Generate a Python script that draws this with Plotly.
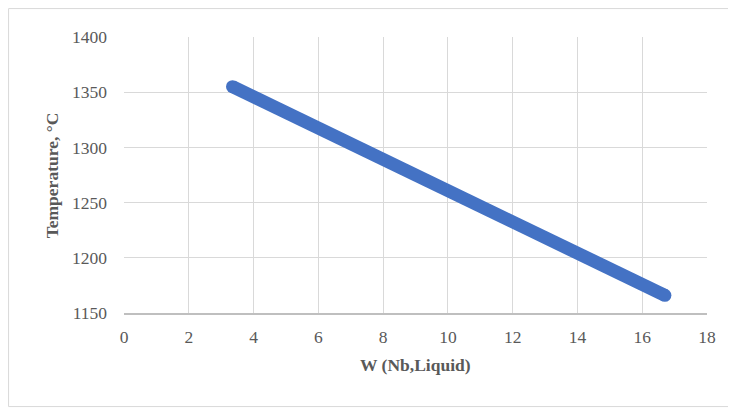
import plotly.graph_objects as go

w_nb_liquid = [3.35, 16.7]
temperature_c = [1355, 1166]
x_ticks = [0, 2, 4, 6, 8, 10, 12, 14, 16, 18]
y_ticks = [1150, 1200, 1250, 1300, 1350, 1400]

BLUE = "#4472C4"
GRID = "#D9D9D9"
TXT = "#595959"
FONT = "Liberation Serif"

fig = go.Figure()
fig.add_trace(go.Scatter(
    x=w_nb_liquid, y=temperature_c, mode="lines+markers",
    line=dict(color=BLUE, width=13),
    marker=dict(color=BLUE, size=13, line=dict(width=0)),
    showlegend=False, hoverinfo="skip"))

bx0, bx1, by0, by1 = -0.198, 1.2, -0.339, 1.103
border = dict(color=GRID, width=1)
fig.update_layout(
    width=728, height=400,
    margin=dict(l=116, r=29, t=29, b=95),
    paper_bgcolor="white", plot_bgcolor="white",
    font=dict(family=FONT, color=TXT, size=17.5),
    xaxis=dict(range=[0, 18], tickvals=x_ticks, showgrid=True, gridcolor=GRID,
               gridwidth=1, zeroline=False, showline=True, linecolor="#BFBFBF",
               linewidth=1.5, ticks="", ticklabelstandoff=7,
               tickfont=dict(size=17.5, color=TXT, family=FONT)),
    yaxis=dict(range=[1150, 1400], tickvals=y_ticks, showgrid=True, gridcolor=GRID,
               gridwidth=1, zeroline=False, showline=False, ticks="",
               ticklabelstandoff=16,
               tickfont=dict(size=17.5, color=TXT, family=FONT)),
    shapes=[
        dict(type="line", xref="paper", yref="paper", x0=bx0, x1=bx0, y0=by0, y1=by1, line=border, layer="below"),
        dict(type="line", xref="paper", yref="paper", x0=bx0, x1=bx1, y0=by1, y1=by1, line=border, layer="below"),
        dict(type="line", xref="paper", yref="paper", x0=bx0, x1=bx1, y0=by0, y1=by0, line=border, layer="below"),
    ],
    annotations=[
        dict(text="<b>Temperature, °C</b>", xref="paper", yref="paper",
             x=-0.123, y=0.5, textangle=-90, showarrow=False,
             font=dict(size=17.5, color=TXT, family=FONT),
             xanchor="center", yanchor="middle"),
        dict(text="<b>W (Nb,Liquid)</b>", xref="paper", yref="paper",
             x=0.5, y=-0.188, showarrow=False,
             font=dict(size=17.5, color=TXT, family=FONT),
             xanchor="center", yanchor="middle"),
    ],
)

fig.write_html("out.html")
